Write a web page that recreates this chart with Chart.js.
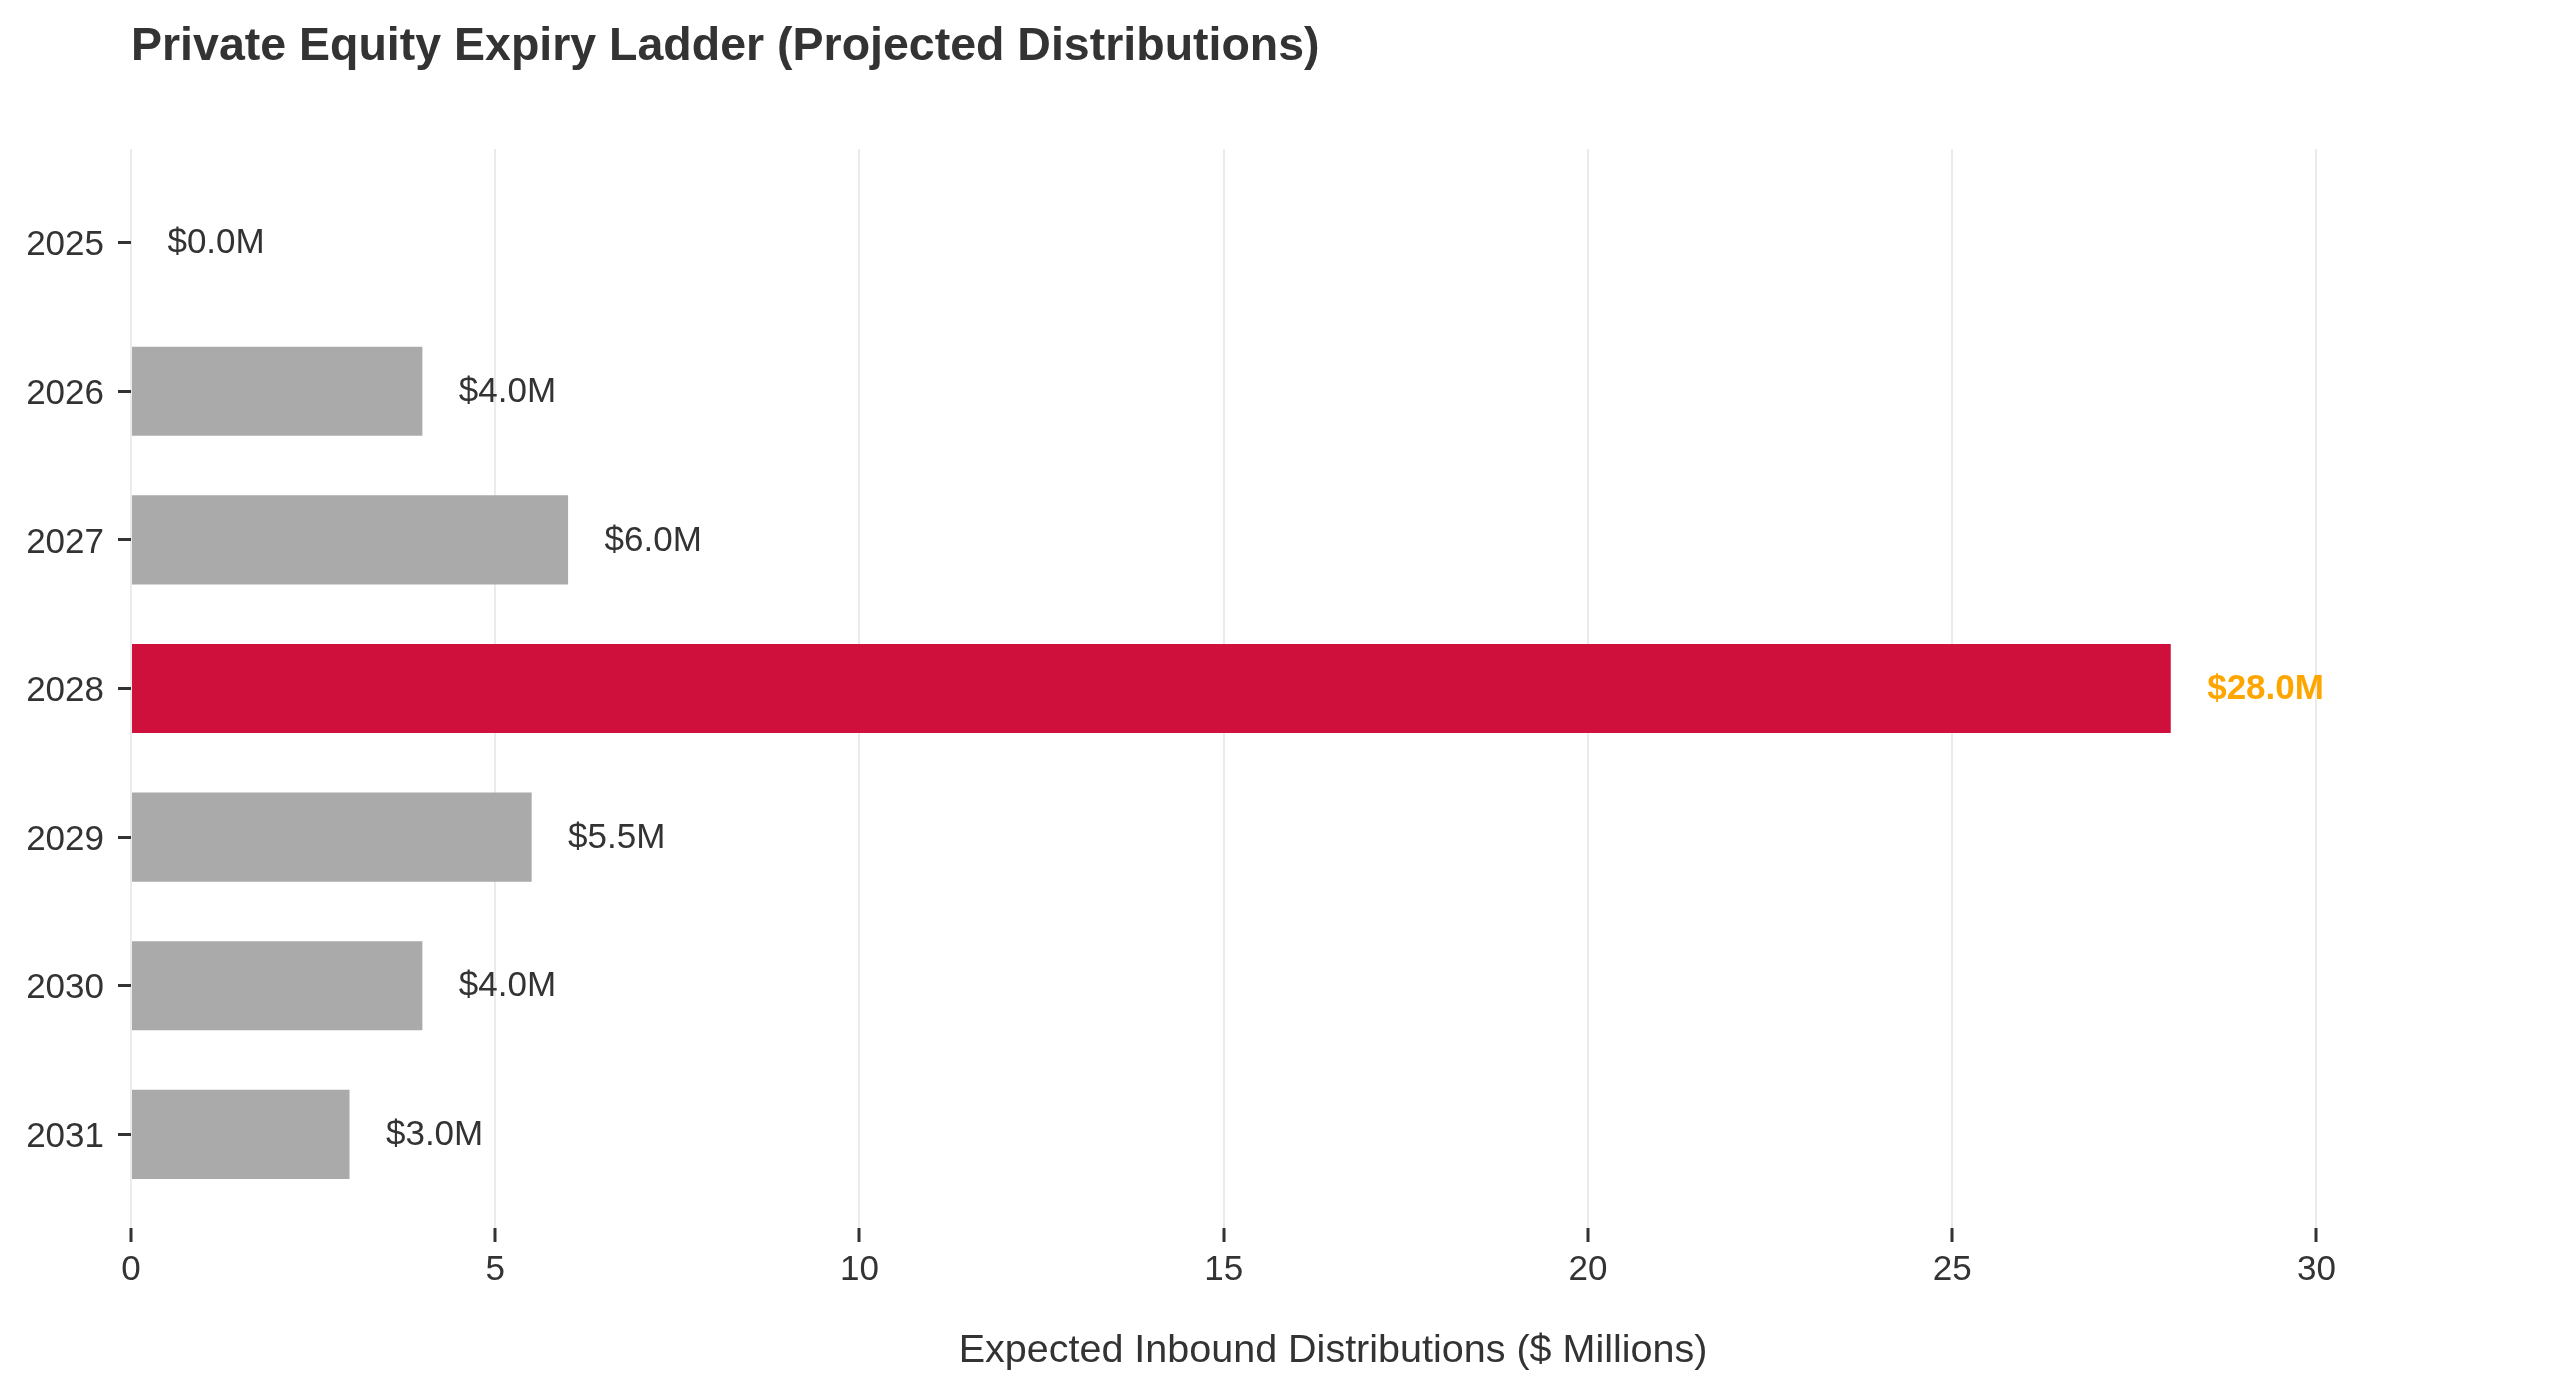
<!DOCTYPE html>
<html lang="en">
<head>
  <meta charset="UTF-8">
  <title>Private Equity Expiry Ladder (Projected Distributions)</title>
  <script src="https://cdn.jsdelivr.net/npm/chart.js"></script>
  <style>
    html, body { margin: 0; padding: 0; background: #fff; }
    #wrap { width: 2560px; height: 1396px; }
  </style>
</head>
<body>
  <div id="wrap"><canvas id="ladder" width="2560" height="1396"></canvas></div>

  <script>
    // Chart data
    const years = [2025, 2026, 2027, 2028, 2029, 2030, 2031];
    const distributions = [0, 4, 6, 28, 5.5, 4, 3];
    const xTicks = [0, 5, 10, 15, 20, 25, 30];
    const peakYear = 2028;

    const chartTitle = 'Private Equity Expiry Ladder (Projected Distributions)';
    const xTitle = 'Expected Inbound Distributions ($ Millions)';

    const FONT = '"Liberation Sans", Arial, Helvetica, sans-serif';
    const TEXT = '#333333';
    const GREY = '#aaaaaa';
    const RED = '#d0103c';
    const ORANGE = '#ffa500';
    const labelGap = 0.5; // value-label offset, in axis units

    Chart.defaults.font.family = FONT;
    Chart.defaults.color = TEXT;

    // Title drawn left-aligned with the plot area
    const titlePlugin = {
      id: 'leftTitle',
      afterDraw(chart) {
        const { ctx, chartArea } = chart;
        ctx.save();
        ctx.font = 'bold 46.5px ' + FONT;
        ctx.fillStyle = TEXT;
        ctx.textAlign = 'left';
        ctx.textBaseline = 'middle';
        ctx.fillText(chartTitle, chartArea.left, 47.5);
        ctx.restore();
      }
    };

    // "$x.xM" labels to the right of each bar
    const valueLabels = {
      id: 'valueLabels',
      afterDatasetsDraw(chart) {
        const { ctx } = chart;
        const xs = chart.scales.x;
        const meta = chart.getDatasetMeta(0);
        ctx.save();
        ctx.textAlign = 'left';
        ctx.textBaseline = 'middle';
        meta.data.forEach((bar, i) => {
          const v = distributions[i];
          const peak = years[i] === peakYear;
          ctx.font = (peak ? 'bold ' : '') + '35px ' + FONT;
          ctx.fillStyle = peak ? ORANGE : TEXT;
          ctx.fillText('$' + v.toFixed(1) + 'M', xs.getPixelForValue(v + labelGap), bar.y + 1);
        });
        ctx.restore();
      }
    };

    new Chart(document.getElementById('ladder'), {
      type: 'bar',
      data: {
        datasets: [{
          data: years.map((y, i) => ({ x: distributions[i], y: y })),
          backgroundColor: years.map(y => y === peakYear ? RED : GREY),
          borderWidth: 0,
          barPercentage: 0.6,
          categoryPercentage: 1
        }]
      },
      options: {
        indexAxis: 'y',
        responsive: false,
        animation: false,
        devicePixelRatio: 1,
        layout: { padding: { top: 149, right: 25, bottom: 0, left: 0 } },
        plugins: {
          legend: { display: false },
          tooltip: { enabled: false },
          title: { display: false }
        },
        scales: {
          x: {
            type: 'linear',
            min: 0,
            max: 33,
            afterBuildTicks: s => { s.ticks = xTicks.map(v => ({ value: v })); },
            afterFit: s => { s.height = 168; },
            border: { display: false },
            grid: {
              color: '#ebebeb',
              lineWidth: 2,
              tickColor: TEXT,
              tickWidth: 3,
              tickLength: 14
            },
            ticks: { color: TEXT, font: { size: 35 }, padding: 7, maxRotation: 0 },
            title: {
              display: true,
              text: xTitle,
              color: TEXT,
              font: { size: 39.5 },
              padding: { top: 0, bottom: 21 }
            }
          },
          y: {
            type: 'linear',
            reverse: true,
            min: 2024.37,
            max: 2031.63,
            offset: false,
            afterBuildTicks: s => { s.ticks = years.map(v => ({ value: v })); },
            afterFit: s => { s.width = 131; },
            border: { display: false },
            grid: {
              offset: false,
              drawOnChartArea: false,
              tickColor: TEXT,
              tickWidth: 3,
              tickLength: 13
            },
            ticks: {
              color: TEXT,
              font: { size: 35 },
              padding: 14,
              labelOffset: 3,
              callback: v => String(v)
            }
          }
        }
      },
      plugins: [titlePlugin, valueLabels]
    });
  </script>
</body>
</html>
